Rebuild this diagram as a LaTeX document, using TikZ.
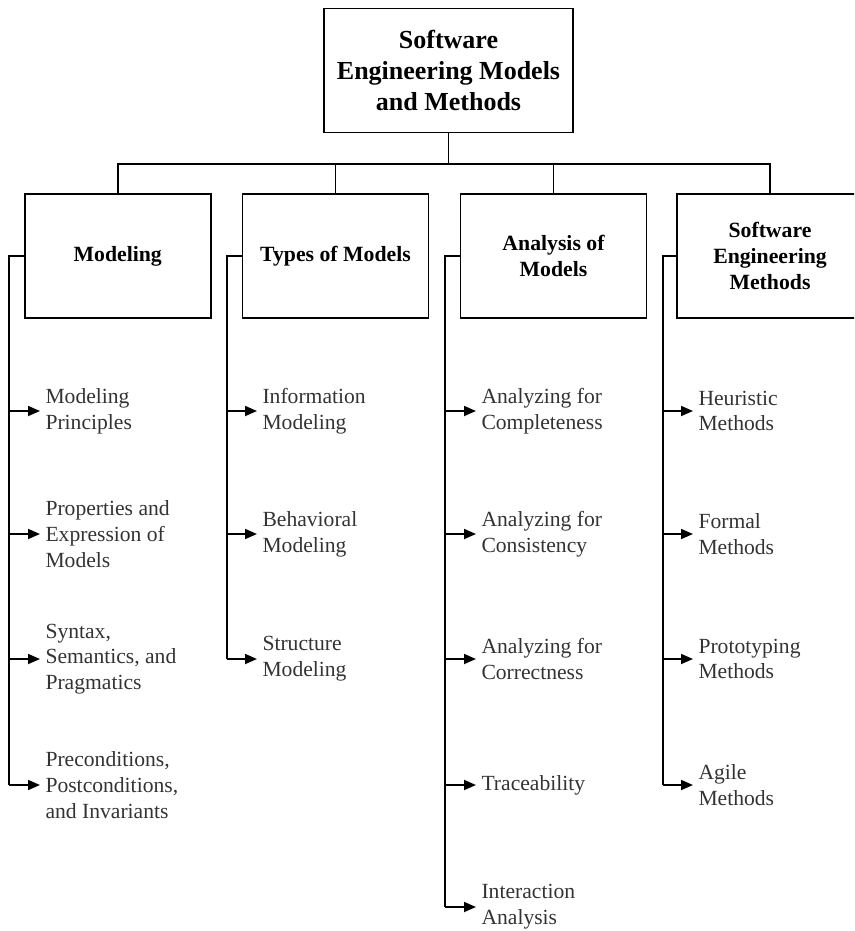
\documentclass[tikz,border=0pt]{standalone}
\usepackage{fontspec}
\setmainfont{Liberation Serif}
\usetikzlibrary{arrows.meta}

\tikzset{every picture/.style={line width=1.3pt}}
\tikzset{
  topbox/.style={draw, align=center, minimum width=186.75pt, minimum height=93pt, inner sep=0pt,
    font=\fontsize{19.5}{23.3}\selectfont\bfseries},
  areabox/.style={draw, align=center, minimum width=139.5pt, minimum height=93pt, inner sep=0pt,
    font=\fontsize{16.3}{19.2}\selectfont\bfseries},
  topic/.style={anchor=west, align=left, inner xsep=3.5pt, inner ysep=0pt, text=black!80,
    font=\fontsize{16.2}{19.3}\selectfont},
  arr/.style={-{Triangle[length=9pt,width=7.5pt]}}
}

\begin{document}
\begin{tikzpicture}[x=0.75pt,y=0.75pt,yscale=-1,xscale=1]
        \clip (0,0) rectangle (854,931);

        %Root box
        \node[topbox] (root) at (448.5,70.5) {Software\\Engineering Models\\and Methods};

        %Area boxes
        \node[areabox] (modeling) at (117.75,256) {Modeling};
        \node[areabox] (types) at (335.5,256) {Types of Models};
        \node[areabox] (analysis) at (553.5,256) {Analysis of\\Models};
        \node[areabox] (methods) at (770,256) {Software\\Engineering\\Methods};

        %Tree connectors
        \coordinate (bar) at (448.5,164);
        \draw (root.south) -- (bar);
        \draw (modeling.north) |- (bar) -| (methods.north);
        \draw (types.north) |- (bar);
        \draw (analysis.north) |- (bar);

        %Modeling topics
        \node[topic] (mprin) at (40,411) {Modeling\\Principles};
        \node[topic] (mprop) at (40,534) {Properties and\\Expression of\\Models};
        \node[topic] (msyn) at (40,659) {Syntax,\\Semantics, and\\Pragmatics};
        \node[topic] (mpre) at (40,785) {Preconditions,\\Postconditions,\\and Invariants};

        %Types of Models topics
        \node[topic] (tinfo) at (257,411) {Information\\Modeling};
        \node[topic] (tbeh) at (257,534) {Behavioral\\Modeling};
        \node[topic] (tstr) at (257,659) {Structure\\Modeling};

        %Analysis of Models topics
        \node[topic] (acomp) at (476,411) {Analyzing for\\Completeness};
        \node[topic] (acons) at (476,534) {Analyzing for\\Consistency};
        \node[topic] (acorr) at (476,659) {Analyzing for\\Correctness};
        \node[topic] (atrace) at (476,785) {Traceability};
        \node[topic] (ainter) at (476,907) {Interaction\\Analysis};

        %Software Engineering Methods topics
        \node[topic] (sheur) at (693,411) {Heuristic\\Methods};
        \node[topic] (sform) at (693,534) {Formal\\Methods};
        \node[topic] (sproto) at (693,659) {Prototyping\\Methods};
        \node[topic] (sagile) at (693,785) {Agile\\Methods};

        %Trunks
        \coordinate (mtrunk) at (9,256);
        \coordinate (ttrunk) at (227,256);
        \coordinate (atrunk) at (445,256);
        \coordinate (strunk) at (663,256);
        \draw (modeling.west) -- (mtrunk) -- (mtrunk |- mpre.west);
        \draw (types.west) -- (ttrunk) -- (ttrunk |- tstr.west);
        \draw (analysis.west) -- (atrunk) -- (atrunk |- ainter.west);
        \draw (methods.west) -- (strunk) -- (strunk |- sagile.west);

        %Arrows
        \draw[arr] (mtrunk |- mprin.west) -- (mprin.west);
        \draw[arr] (mtrunk |- mprop.west) -- (mprop.west);
        \draw[arr] (mtrunk |- msyn.west) -- (msyn.west);
        \draw[arr] (mtrunk |- mpre.west) -- (mpre.west);
        \draw[arr] (ttrunk |- tinfo.west) -- (tinfo.west);
        \draw[arr] (ttrunk |- tbeh.west) -- (tbeh.west);
        \draw[arr] (ttrunk |- tstr.west) -- (tstr.west);
        \draw[arr] (atrunk |- acomp.west) -- (acomp.west);
        \draw[arr] (atrunk |- acons.west) -- (acons.west);
        \draw[arr] (atrunk |- acorr.west) -- (acorr.west);
        \draw[arr] (atrunk |- atrace.west) -- (atrace.west);
        \draw[arr] (atrunk |- ainter.west) -- (ainter.west);
        \draw[arr] (strunk |- sheur.west) -- (sheur.west);
        \draw[arr] (strunk |- sform.west) -- (sform.west);
        \draw[arr] (strunk |- sproto.west) -- (sproto.west);
        \draw[arr] (strunk |- sagile.west) -- (sagile.west);

    \end{tikzpicture}
\end{document}
